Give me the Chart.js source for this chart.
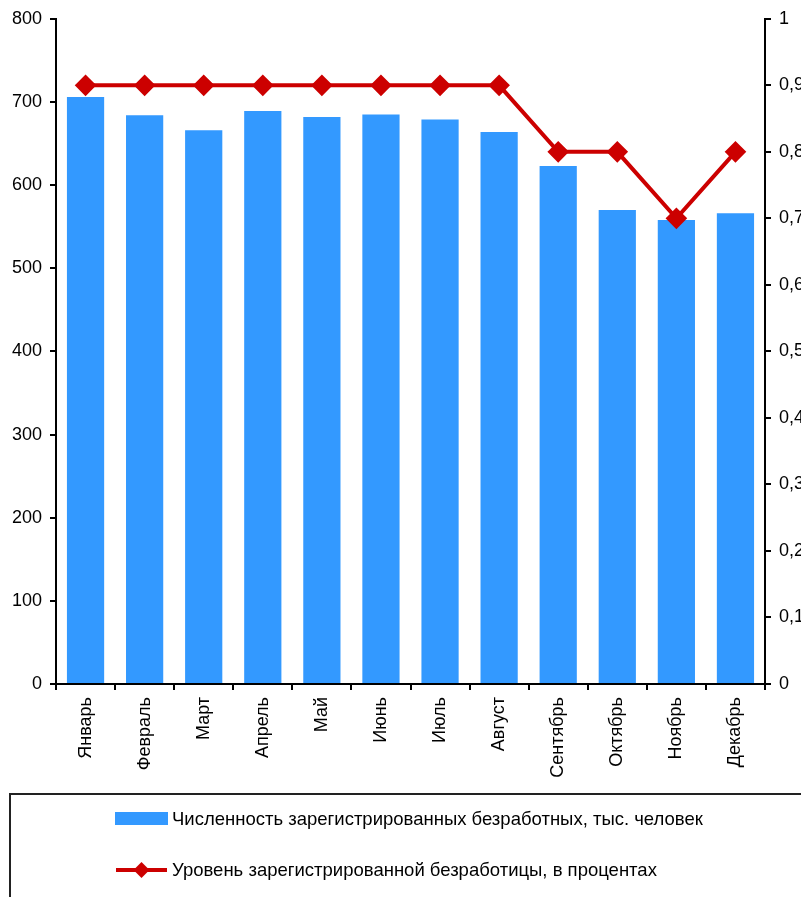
<!DOCTYPE html>
<html>
<head>
<meta charset="utf-8">
<script src="https://cdn.jsdelivr.net/npm/chart.js@4"></script>
<style>
  html, body { margin: 0; padding: 0; background: #fff; }
  #wrap { position: relative; width: 801px; height: 897px; }
</style>
</head>
<body>
<div id="wrap"><canvas id="c"></canvas></div>
<script>
  // Данные
  var months = ['Январь', 'Февраль', 'Март', 'Апрель', 'Май', 'Июнь',
                'Июль', 'Август', 'Сентябрь', 'Октябрь', 'Ноябрь', 'Декабрь'];
  var unemployedThousands = [706, 684, 666, 689, 682, 685, 679, 664, 623, 570, 558, 566];
  var unemploymentRate = [0.9, 0.9, 0.9, 0.9, 0.9, 0.9, 0.9, 0.9, 0.8, 0.8, 0.7, 0.8];

  var BLUE = '#3399FF';
  var RED = '#CC0000';
  var FONT = 'Arial, "Liberation Sans", sans-serif';

  // Рамка и легенда снизу (как в Excel-оригинале)
  var boxLegend = {
    id: 'boxLegend',
    afterDraw: function (chart) {
      var ctx = chart.ctx;
      var bars = chart.data.datasets[1], line = chart.data.datasets[0];
      ctx.save();
      ctx.strokeStyle = '#222';
      ctx.lineWidth = 2;
      ctx.beginPath();
      ctx.moveTo(10, 900);
      ctx.lineTo(10, 794);
      ctx.lineTo(805, 794);
      ctx.stroke();

      ctx.font = '18.5px ' + FONT;
      ctx.textBaseline = 'middle';

      ctx.fillStyle = BLUE;
      ctx.fillRect(115, 812, 53, 13);
      ctx.fillStyle = '#000';
      ctx.fillText(bars.label, 172, 820);

      ctx.strokeStyle = RED;
      ctx.lineWidth = 4;
      ctx.beginPath();
      ctx.moveTo(116, 870);
      ctx.lineTo(167, 870);
      ctx.stroke();
      ctx.fillStyle = RED;
      ctx.beginPath();
      ctx.moveTo(141.5, 862);
      ctx.lineTo(149.5, 870);
      ctx.lineTo(141.5, 878);
      ctx.lineTo(133.5, 870);
      ctx.closePath();
      ctx.fill();
      ctx.fillStyle = '#000';
      ctx.fillText(line.label, 172, 871);
      ctx.restore();
    }
  };

  new Chart(document.getElementById('c'), {
    type: 'bar',
    data: {
      labels: months,
      datasets: [{
        type: 'line',
        label: 'Уровень зарегистрированной безработицы, в процентах',
        data: unemploymentRate,
        yAxisID: 'y1',
        borderColor: RED, backgroundColor: RED,
        borderWidth: 4, tension: 0,
        pointStyle: 'rectRot', pointRadius: 8, pointHoverRadius: 8,
        pointBackgroundColor: RED, pointBorderColor: RED,
        order: 0,
      }, {
        label: 'Численность зарегистрированных безработных, тыс. человек',
        data: unemployedThousands,
        yAxisID: 'y',
        backgroundColor: BLUE,
        barPercentage: 0.63, categoryPercentage: 1,
        order: 1,
      }]
    },
    options: {
      responsive: true, maintainAspectRatio: false,
      animation: false,
      layout: {padding: {top: 16, bottom: 103, left: 0, right: 0}},
      plugins: {legend: {display: false}, tooltip: {enabled: false}},
      scales: {
        x: {
          grid: {drawOnChartArea: false, tickLength: 6, tickColor: '#000', lineWidth: 2, offset: true},
          border: {color: '#000', width: 2},
          ticks: {color: '#000', font: {family: FONT, size: 18}, minRotation: 90, maxRotation: 90, padding: 7},
          afterFit: function (s) { s.height = 110; },
        },
        y: {
          position: 'left', min: 0, max: 800,
          ticks: {stepSize: 100, color: '#000', font: {family: FONT, size: 18}, padding: 8},
          grid: {drawOnChartArea: false, tickLength: 6, tickColor: '#000', lineWidth: 2},
          border: {color: '#000', width: 2},
          afterFit: function (s) { s.width = 56; },
        },
        y1: {
          position: 'right', min: 0, max: 1,
          ticks: {
            stepSize: 0.1, color: '#000', font: {family: FONT, size: 18}, padding: 8,
            callback: function (v) {
              if (v === 0 || v === 1) return String(v);
              return v.toFixed(1).replace('.', ',');
            }
          },
          grid: {drawOnChartArea: false, tickLength: 6, tickColor: '#000', lineWidth: 2},
          border: {color: '#000', width: 2},
          afterFit: function (s) { s.width = 36; },
        }
      }
    },
    plugins: [boxLegend]
  });
</script>
</body>
</html>
